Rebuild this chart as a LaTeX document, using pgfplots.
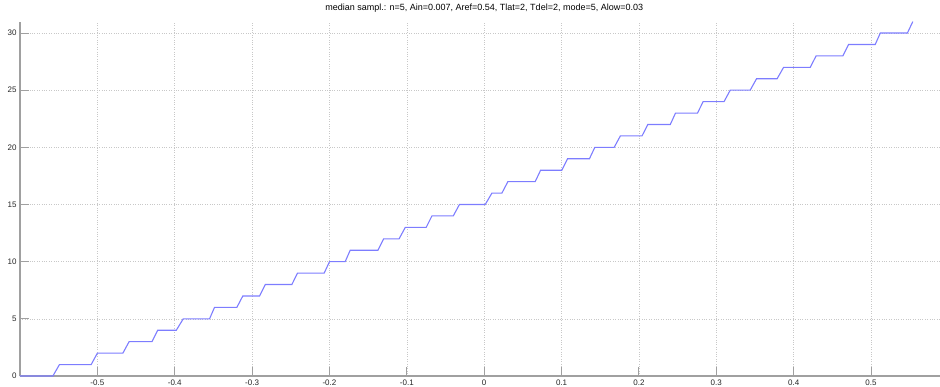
\documentclass[border=0pt]{standalone}
\usepackage{fontspec}
\setmainfont{Liberation Sans}
\usepackage{pgfplots}
\pgfplotsset{compat=1.18}
\definecolor{stair}{RGB}{125,125,255}
\definecolor{axgray}{RGB}{160,160,160}
\definecolor{gridgray}{RGB}{200,200,200}
\begin{document}
\begin{tikzpicture}
\begin{axis}[
  at={(0pt,0pt)}, anchor=south west,
  scale only axis, width=928.4pt, height=354.4pt,
  xmin=-0.6, xmax=0.6, ymin=0, ymax=31,
  clip=false,
  axis x line=bottom, axis y line=left,
  axis line style={-, axgray, line width=1.5pt},
  xtick={-0.5,-0.4,-0.3,-0.2,-0.1,0,0.1,0.2,0.3,0.4,0.5},
  ytick={0,5,10,15,20,25,30},
  tick align=inside, major tick length=9pt,
  tick style={axgray, line width=1pt},
  grid=major, grid style={dotted, gridgray, line width=0.6pt},
  ticklabel style={font=\fontsize{8}{9}\selectfont, text=black!85},
  /pgf/number format/assume math mode=true,
  title={median sampl.: n=5, Ain=0.007, Aref=0.54, Tlat=2, Tdel=2, mode=5, Alow=0.03},
  title style={at={(0.5,1)}, anchor=base, yshift=4.8pt, inner sep=0pt, font=\fontsize{9}{10}\selectfont},
]
\addplot[stair, line width=1.1pt] coordinates {
(-0.6,0) (-0.5575,0) (-0.549,1) (-0.508,1) (-0.500,2) (-0.467,2) (-0.459,3)
(-0.4295,3) (-0.422,4) (-0.398,4) (-0.389,5) (-0.355,5) (-0.3486,6) (-0.3197,6)
(-0.312,7) (-0.2904,7) (-0.283,8) (-0.2486,8) (-0.2413,9) (-0.2068,9) (-0.2,10)
(-0.1797,10) (-0.1732,11) (-0.1374,11) (-0.130,12) (-0.110,12) (-0.102,13)
(-0.075,13) (-0.0676,14) (-0.040,14) (-0.032,15) (0.0013,15) (0.010,16)
(0.0229,16) (0.0306,17) (0.0659,17) (0.0729,18) (0.1004,18) (0.1077,19)
(0.136,19) (0.143,20) (0.168,20) (0.176,21) (0.204,21) (0.2115,22) (0.2405,22)
(0.2473,23) (0.2757,23) (0.283,24) (0.310,24) (0.318,25) (0.3438,25) (0.352,26)
(0.3786,26) (0.387,27) (0.4214,27) (0.429,28) (0.4636,28) (0.471,29)
(0.5054,29) (0.512,30) (0.547,30) (0.554,31)
};
\end{axis}
\pgfresetboundingbox
\path[use as bounding box] (-20pt,-11pt) rectangle (920pt,376pt);
\end{tikzpicture}
\end{document}
